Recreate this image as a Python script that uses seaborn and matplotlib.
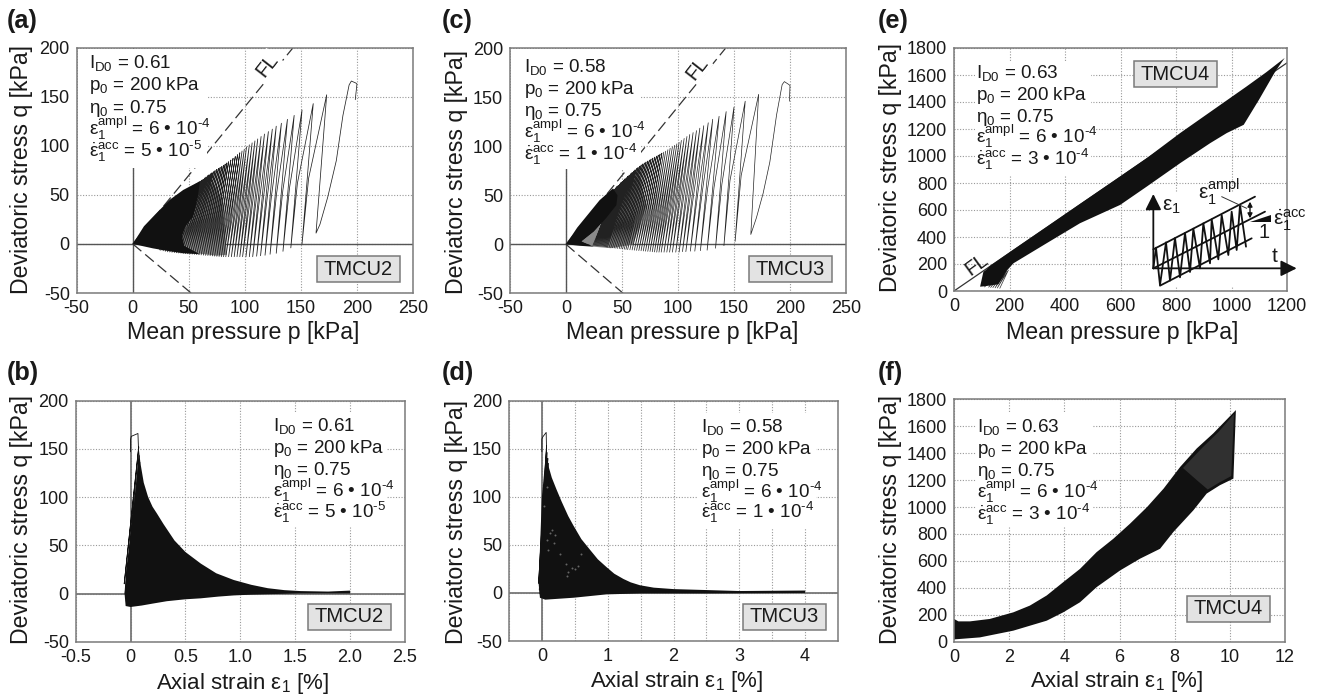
import matplotlib
matplotlib.use("Agg")
import matplotlib.pyplot as plt
from matplotlib.patches import Rectangle
import seaborn as sns

W, H = 1319, 697
INK = "#1a1a1a"
BLACK = "#111111"

# Panel a: loops
a_start_p = [198.5, 200, 199, 195, 193, 187.5, 181.6, 174, 167, 163.5]
a_start_q = [147, 163, 164, 166, 162, 131, 85, 48, 20, 11]
a_peak_p = [173, 161, 151, 144, 138, 132.6, 128, 124.5, 121, 117.5, 114.5, 111.5, 109, 106.5, 104, 101.5, 99.5, 97.5, 95.5, 93.5, 91.5, 89.5, 87.5, 85.5, 84, 82.5, 81, 79.5, 78, 76.5, 75, 73.5, 72, 70.7, 69.4, 68.1, 66.8, 65.5, 64.2, 62.9, 61.6, 60.3, 59, 57.7, 56.4, 55.1, 53.8, 52.5]
a_peak_q = [152, 143, 136.5, 131, 127, 123, 120, 117, 114.5, 112, 109.5, 107, 105, 103, 101, 99, 96.5, 94.7, 92.9, 91, 89.1, 87.3, 85.5, 83.8, 82.6, 81.4, 80.2, 79, 78, 77, 76, 74.8, 73.6, 72.5, 71.5, 70.5, 69.5, 68.3, 67.2, 66, 65, 64, 63, 62, 61, 60, 59.2, 58]
a_via_p = [156.9, 146.9, 139.9, 133.9, 128.4, 123.9, 120.1, 116.6, 113.1, 110.1, 107.1, 104.4, 101.9, 99.4, 96.9, 94.6, 92.3, 90.1, 88.1, 86.1, 84.1, 82.1, 80.1, 78.3, 76.5, 74.8, 73, 71.3, 69.5, 67.7, 66, 64.2, 62.5, 60.8, 59.2, 57.5, 55.8, 54.2, 52.5, 50.8, 49.1, 47.5, 45.8, 44.1, 42.5, 40.8, 39.1, 38]
a_via_q = [67, 62, 57.6, 54.7, 52.2, 50.3, 48.6, 47.2, 45.8, 44.6, 43.4, 42.5, 41.5, 40.6, 39.6, 38.5, 37.6, 36.8, 35.9, 35, 34.2, 33.5, 32.8, 32.4, 31.9, 31.4, 31, 30.6, 30.3, 29.9, 29.4, 29, 28.6, 28.2, 27.8, 27.5, 27, 26.6, 26.1, 25.8, 25.4, 25.1, 24.8, 24.4, 24.2, 24, 23.8, 23]
a_val_p = [151, 141, 134, 128, 122.5, 118, 114, 110.5, 107, 104, 101, 98, 95.5, 93, 90.5, 88, 85.5, 83, 81, 79, 77, 75, 73, 71, 69, 67, 65, 63, 61, 59, 57, 55, 53, 51, 49, 47, 45, 43, 41, 39, 37, 35, 33, 31, 29, 27, 25, 24]
a_val_q = [0, -4, -7.5, -9.5, -10.5, -11.5, -12, -12.5, -13, -13, -13, -13, -13, -13, -13, -13, -13, -13, -13, -13, -12.8, -12.6, -12.4, -12.2, -12, -11.8, -11.6, -11.4, -11.2, -11, -10.8, -10.6, -10.4, -10.2, -10, -9.8, -9.6, -9.4, -9.2, -9, -8.8, -8.5, -8.2, -8, -7.5, -7, -6.5, -6]
a_blob_p = [0, 10, 20, 33, 45, 55, 60, 58, 54, 47, 44, 46, 60, 45, 33, 18, 0]
a_blob_q = [0, 18, 30, 45, 55, 61, 64, 48, 28, 18, 8, -2, -10.5, -9.5, -7.5, -4.5, 0]
a_shade_p = [44, 54, 58, 64, 72, 80, 84, 75, 46]
a_shade_q = [8, 28, 48, 62, 62, 45, -11, -12, -8]

# Panel c
c_start_p = [199.5, 200, 199, 195, 193, 188, 182, 176, 170, 165]
c_start_q = [146, 162, 163, 166, 163, 132, 84, 52, 27, 10]
c_peak_p = [172, 160, 150, 143, 136.7, 131, 127, 123, 119.5, 116.5, 113.5, 110.5, 108, 105.5, 103, 101, 99, 97, 95, 93, 91, 89, 87.3, 85.6, 84, 82.4, 80.8, 79.2, 77.6, 76, 74.5, 73, 71.5, 70, 68.6, 67.2, 65.8, 64.4, 63, 61.7, 60.4, 59.1, 57.8, 56.5, 55.2, 53.9, 52.7, 51.5, 50.3, 49.1, 47.9, 46.7, 45.5, 44.3, 43.1, 42]
c_peak_q = [153, 146, 140, 135.4, 130.6, 127.6, 124, 121, 118.5, 116, 114, 112, 110, 108, 106, 104, 102.5, 101, 99.5, 98, 96.5, 95, 94, 93, 92, 91, 90, 89, 88, 87, 86, 85, 84, 83, 82, 81, 79.7, 78.5, 77.3, 76, 74.7, 73.4, 72, 70.7, 69.4, 68, 66.8, 65.5, 64.2, 63, 61.5, 60.2, 59, 57.6, 56.3, 55]
c_via_p = [156.4, 146.4, 139.2, 132.2, 126.4, 121.8, 117.8, 114.1, 111.1, 108.1, 105.1, 102.3, 99.8, 97.3, 95, 92.8, 90.8, 88.8, 86.8, 84.8, 82.8, 80.9, 79, 77.3, 75.4, 73.6, 71.8, 70, 68.2, 66.4, 64.7, 63.2, 61.7, 60.2, 58.8, 57.3, 55.8, 54.4, 53, 51.6, 50.2, 48.8, 47.4, 46.2, 45.1, 44, 42.9, 41.8, 40.7, 39.6, 38.5, 37.4, 36.3, 35.2, 34.2, 33]
c_via_q = [70.2, 65, 61.5, 58.2, 56.5, 54.6, 53.2, 51.7, 50.5, 49.3, 48.4, 47.5, 46.5, 45.6, 44.6, 44, 43.2, 42.5, 42, 41.3, 40.7, 40.4, 40, 39.6, 39.3, 38.9, 38.5, 38.2, 37.8, 37.5, 37.1, 36.8, 36.4, 36, 35.6, 35.1, 34.7, 34.2, 33.7, 33.2, 32.7, 32.1, 31.6, 31.1, 30.5, 29.9, 29.3, 28.8, 28.6, 27.9, 27.4, 26.9, 26.3, 25.7, 25.1, 24]
c_val_p = [151, 141, 133.5, 126, 120, 115, 111, 107, 104, 101, 98, 95, 92.5, 90, 87.5, 85, 83, 81, 79, 77, 75, 73, 71, 69, 67, 65, 63, 61, 59, 57, 55, 53.5, 52, 50.5, 49, 47.5, 46, 44.5, 43, 41.5, 40, 38.5, 37, 36, 35, 34, 33, 32, 31, 30, 29, 28, 27, 26, 25, 24]
c_val_q = [3, -1.4, -4, -6, -6.5, -7, -7, -7.5, -7.5, -8, -8, -8, -8, -8, -8, -8, -8, -8, -7.8, -7.6, -7.4, -7.2, -7, -6.8, -6.6, -6.4, -6.2, -6, -5.8, -5.6, -5.4, -5.2, -5, -4.8, -4.6, -4.4, -4.2, -4, -3.8, -3.6, -3.4, -3.2, -3, -2.8, -2.6, -2.4, -2.2, -2, -1.9, -1.8, -1.7, -1.6, -1.5, -1.4, -1.3, -1.2]
c_blob_p = [0, 10, 20, 30, 42, 46, 45, 36, 25, 14, 25, 12, 0]
c_blob_q = [0, 17, 31, 45, 57, 50, 40, 27, 13, 3, -2.5, -1.5, 0]
c_shade_p = [14, 25, 36, 45, 46, 56, 66, 72, 60, 40, 25]
c_shade_q = [3, 13, 27, 40, 52, 66, 68, 40, 0, -4, -2.5]

# Panel b: strain band
b_band_x = [-0.045, -0.055, -0.04, -0.01, 0.02, 0.05, 0.075, 0.09, 0.12, 0.16, 0.2, 0.24, 0.3, 0.4, 0.5, 0.64, 0.78, 0.94, 1.1, 1.25, 1.4, 1.55, 1.8, 2.0, 2.0, 1.55, 1.25, 1.1, 0.94, 0.8, 0.64, 0.5, 0.33, 0.2, 0.1, 0, -0.045]
b_band_q = [-13, 0, 25, 50, 80, 110, 150, 135, 115, 100, 90, 83, 72, 55, 43, 31, 21, 14, 9, 5.5, 3.5, 2.5, 2, 3, 0, 0, -0.7, -1.2, -2, -3.2, -5, -6, -8, -10.5, -12.5, -14, -13]
b_line_x = [0.0, 0.0, 0.006, 0.067, 0.072, -0.058, 0.075, -0.05, 0.08, -0.045, 0.085, -0.04, 0.09, -0.03, 0.095, -0.025, 0.1, -0.02, 0.105]
b_line_q = [147, 160, 163, 166, 150, 10, 152, 0, 143, -4, 136, -8, 130, -10, 125, -11, 120, -12, 115]

# Panel d
d_band_x = [-0.03, -0.05, -0.03, 0, 0.07, 0.08, 0.1, 0.15, 0.22, 0.3, 0.4, 0.48, 0.6, 0.73, 0.85, 0.98, 1.1, 1.24, 1.35, 1.49, 1.7, 2, 2.5, 3, 4, 4, 2.5, 1.5, 0.98, 0.48, 0.05, -0.03]
d_band_q = [-5, 10, 45, 100, 152, 140, 132, 120, 108, 95, 80, 70, 56, 45, 35, 27, 20, 14.5, 11, 8, 5.5, 4, 3, 2, 2.5, 0, -0.5, -0.5, -1.5, -5, -7, -5]
d_line_x = [0.0, 0.0, 0.01, 0.065, 0.07, -0.05, 0.07, -0.04, 0.08, -0.03, 0.09, -0.02, 0.1]
d_line_q = [147, 160, 162, 167, 150, 10, 153, 3, 146, -1, 140, -4, 135]
d_dot_x = [0.08, 0.12, 0.16, 0.2, 0.1, 0.18, 0.36, 0.4, 0.45, 0.5, 0.38, 0.55, 0.03, 0.08, 0.27, 0.6]
d_dot_q = [55, 62, 66, 60, 45, 52, 30, 22, 26, 25, 18, 28, 90, 110, 40, 40]

# Panel e: band and first loops
e_up_p = [94, 106, 115, 130, 214, 334, 454, 575, 695, 815, 935, 1055, 1125, 1191.6]
e_up_q = [32, 143, 156, 186, 306, 475, 645, 815, 985, 1170, 1343, 1516, 1620, 1726]
e_low_p = [1158, 1100, 1044, 983, 923, 815, 695, 599, 454, 334, 214, 190, 160, 110]
e_low_q = [1627, 1420, 1231, 1170, 1095, 947, 774, 638, 502, 354, 205, 150, 50, 35]
e_loop_p = [110, 150, 125, 162, 132, 172, 140, 180, 148, 190, 156, 196, 165]
e_loop_q = [30, 110, 28, 120, 26, 130, 25, 140, 23, 150, 22, 155, 20]
fl_p = [0, 1200]
fl_q = [0, 1690]

# Panel f
f_up_x = [0, 0.16, 0.58, 1.3, 2.15, 2.75, 3.36, 3.96, 4.57, 5.17, 5.78, 6.38, 7, 7.6, 8.2, 8.8, 9.4, 10.22]
f_up_q = [169, 151, 151, 169, 218, 268, 343, 442, 541, 665, 765, 876, 1000, 1137, 1298, 1435, 1547, 1720]
f_low_x = [10.13, 9.64, 9.16, 8.68, 7.95, 7.47, 6.74, 6.02, 5.17, 4.57, 3.96, 3.36, 2.15, 0.94, 0]
f_low_q = [1211, 1162, 1100, 976, 814, 690, 616, 529, 405, 293, 218, 156, 82, 32, 17]
f_light_x = [8.3, 9, 9.6, 10.15, 10.05, 9.6, 9.2, 8.8]
f_light_q = [1290, 1440, 1560, 1690, 1230, 1180, 1130, 1200]

# Sketch in panel e, in sketch units
sk_up_t = [40, 345]
sk_up_e = [238, 80]
sk_mid_t = [40, 375]
sk_mid_e = [295, 125]
sk_low_t = [60, 335]
sk_low_e = [347, 205]
sk_zig_t = [40, 48, 60, 78, 90, 105, 120, 135, 150, 160, 180, 190, 210, 215, 235, 245, 265, 275, 290, 300, 318]
sk_zig_e = [295, 233, 345, 217, 332, 204, 322, 189, 306, 176, 295, 160, 280, 148, 268, 135, 255, 125, 240, 105, 230]
sk_tri_t = [330, 392, 392]
sk_tri_e = [155, 155, 135]

# Tick values
p_ticks = [-50, 0, 50, 100, 150, 200, 250]
q_ticks = [-50, 0, 50, 100, 150, 200]
e_p_ticks = [0, 200, 400, 600, 800, 1000, 1200]
e_q_ticks = [0, 200, 400, 600, 800, 1000, 1200, 1400, 1600, 1800]
b_ticks = [-0.5, 0, 0.5, 1.0, 1.5, 2.0, 2.5]
b_tick_labels = ["-0.5", "0", "0.5", "1.0", "1.5", "2.0", "2.5"]
d_ticks = [-0.5, 0, 0.5, 1, 1.5, 2, 2.5, 3, 3.5, 4, 4.5]
d_tick_labels = ["", "0", "", "1", "", "2", "", "3", "", "4", ""]
f_ticks = [0, 2, 4, 6, 8, 10, 12]

sns.set_style("white")
plt.rcParams["font.family"] = ["Liberation Sans", "DejaVu Sans"]
plt.rcParams["mathtext.fontset"] = "custom"
plt.rcParams["mathtext.rm"] = "Liberation Sans"
plt.rcParams["mathtext.it"] = "Liberation Sans"
plt.rcParams["mathtext.bf"] = "Liberation Sans:bold"
plt.rcParams["mathtext.default"] = "regular"
plt.rcParams["axes.unicode_minus"] = False

fig = plt.figure(figsize=(W / 100, H / 100), dpi=100)


def fx(x):
    return x / W


def fy(y):
    return 1 - y / H


def make_axes(left, right, top, bottom, xlim, ylim, xticks, yticks, xlabels=None):
    ax = fig.add_axes([fx(left), fy(bottom), (right - left) / W, (bottom - top) / H])
    ax.set_xlim(xlim)
    ax.set_ylim(ylim)
    ax.set_xticks(xticks)
    ax.set_yticks(yticks)
    if xlabels is not None:
        ax.set_xticklabels(xlabels)
    ax.tick_params(length=0, labelsize=13, pad=5, labelcolor=INK)
    ax.grid(True, ls=(0, (1, 1.5)), color="#999999", lw=0.8)
    ax.set_axisbelow(True)
    for s in ax.spines.values():
        s.set_color("#7a7a7a")
        s.set_linewidth(1.1)
    return ax


def labels(ax, xl, xpos, yl, ypos, size=16.7):
    ax.set_xlabel(xl, fontsize=size, color=INK, va="center", ha="center")
    ax.set_ylabel(yl, fontsize=16.7, color=INK, va="center", ha="center")
    ax.xaxis.set_label_coords(fx(xpos[0]), fy(xpos[1]), transform=fig.transFigure)
    ax.yaxis.set_label_coords(fx(ypos[0]), fy(ypos[1]), transform=fig.transFigure)


def params(x, y, idr, rate):
    rows = [r"$I_{D0}$ = " + idr, r"$p_0$ = 200 kPa", r"$\eta_0$ = 0.75",
            "$\\varepsilon_1^{ampl}$ = 6 • 10$^{\u20104}$", r"$\dot{\varepsilon}_1^{acc}$ = " + rate]
    for row, yy in zip(rows, y):
        fig.text(fx(x), fy(yy), row, fontsize=13.6, color=INK, va="baseline", ha="left", zorder=5)


def tag(x, y, name):
    fig.add_artist(Rectangle((fx(x - 41.5), fy(y + 12.8)), 83 / W, 25.6 / H, transform=fig.transFigure,
                             fc="#e3e3e3", ec="#7a7a7a", lw=1.1, zorder=4))
    fig.text(fx(x), fy(y), name, fontsize=14.5, color=INK, ha="center", va="center", zorder=5)


def panel(x, y, name):
    fig.text(fx(x), fy(y), name, fontsize=18.3, fontweight="bold", color=INK, ha="left", va="center")


def blank(ax, x0, x1, y0, y1):
    ax.add_patch(Rectangle((x0, y0), x1 - x0, y1 - y0, fc="white", ec="none", zorder=1.5))


def loops(start_p, start_q, peak_p, peak_q, via_p, via_q, val_p, val_q):
    xs, ys = list(start_p), list(start_q)
    for pp, pq, mp, mq, vp, vq in zip(peak_p, peak_q, via_p, via_q, val_p, val_q):
        xs += [pp, mp, vp]
        ys += [pq, mq, vq]
    return xs, ys


def line(ax, x, y, lw=0.6, color=BLACK, z=2):
    sns.lineplot(x=x, y=y, sort=False, estimator=None, color=color, lw=lw, ax=ax, zorder=z, legend=False)


def fl_lines(ax, up_p, up_q, dn_p, dn_q):
    line(ax, [0, up_p], [0, up_q], lw=0.9, color="#333333", z=1)
    line(ax, [0, dn_p], [0, dn_q], lw=0.9, color="#333333", z=1)
    for l in ax.get_lines()[-2:]:
        l.set_dashes((9, 4))


YLAB = "Deviatoric stress q [kPa]"
YLAB2 = "Deviatorc stress q [kPa]"
XLAB = "Mean pressure p [kPa]"
XLAB2 = r"Axial strain $\varepsilon_1$ [%]"
RATE_A = "5 • 10$^{\u20105}$"
RATE_C = "1 • 10$^{\u20104}$"
RATE_E = "3 • 10$^{\u20104}$"

# (a)
ax = make_axes(76.7, 413, 47.7, 293, (-50, 250), (-50, 200), p_ticks, q_ticks)
ax.axhline(0, color="#555555", lw=1, zorder=1)
ax.axvline(0, color="#555555", lw=1, zorder=1)
fl_lines(ax, 143, 200, 52, -50)
blank(ax, -49, 66, 77, 199)
ax.fill(a_shade_p, a_shade_q, color="#8a8a8a", lw=0, zorder=1.8)
x, y = loops(a_start_p, a_start_q, a_peak_p, a_peak_q, a_via_p, a_via_q, a_val_p, a_val_q)
line(ax, x, y, lw=0.55, color="#222222")
ax.fill(a_blob_p, a_blob_q, color=BLACK, lw=0, zorder=2.5)
labels(ax, XLAB, (243, 333), YLAB, (22, 170))
params(89, [68, 90, 113, 135, 157], "0.61", RATE_A)
tag(358, 269, "TMCU2")
panel(7, 21, "(a)")
fig.text(fx(267), fy(65), "FL", fontsize=14.6, rotation=52, color=INK, ha="center", va="center",
         zorder=4, bbox=dict(fc="white", ec="none", pad=1))

# (c)
ax = make_axes(510, 846, 48.3, 293.3, (-50, 250), (-50, 200), p_ticks, q_ticks)
ax.axhline(0, color="#555555", lw=1, zorder=1)
ax.axvline(0, color="#555555", lw=1, zorder=1)
fl_lines(ax, 142.4, 200, 51, -50)
blank(ax, -49, 67, 77, 199)
ax.fill(c_shade_p, c_shade_q, color="#8a8a8a", lw=0, zorder=1.8)
x, y = loops(c_start_p, c_start_q, c_peak_p, c_peak_q, c_via_p, c_via_q, c_val_p, c_val_q)
line(ax, x, y, lw=0.5, color="#222222")
ax.fill(c_blob_p, c_blob_q, color=BLACK, lw=0, zorder=2.5)
labels(ax, XLAB, (682, 333), YLAB2, (457, 172))
params(524, [72, 94, 116, 138, 160], "0.58", RATE_C)
tag(790, 269, "TMCU3")
panel(442, 21, "(c)")
fig.text(fx(697), fy(68), "FL", fontsize=14.6, rotation=52, color=INK, ha="center", va="center",
         zorder=4, bbox=dict(fc="white", ec="none", pad=1))

# (e)
ax = make_axes(954, 1287, 48, 291, (0, 1200), (0, 1800), e_p_ticks, e_q_ticks)
blank(ax, 75, 495, 850, 1700)
blank(ax, 706, 1199, 30, 726)
line(ax, fl_p, fl_q, lw=0.9, color="#333333", z=1)
ax.fill(e_up_p + e_low_p, e_up_q + e_low_q, color=BLACK, lw=0, zorder=2.5)
line(ax, e_loop_p, e_loop_q, lw=0.5, color="#333333")
labels(ax, XLAB, (1122, 333), YLAB, (891, 168))
params(976, [78, 100, 122, 143, 165], "0.63", RATE_E)
tag(1175, 74, "TMCU4")
panel(878, 21, "(e)")
fig.text(fx(977), fy(265), "FL", fontsize=14.6, rotation=36, color=INK, ha="center", va="center", zorder=4)

# sketch inside (e)
sk = fig.add_axes([fx(1140), fy(295), 179 / W, 125 / H], zorder=6)
sk.set_xlim(0, 537)
sk.set_ylim(375, 0)
sk.axis("off")
sk.patch.set_alpha(0)
for tt, ee in [(sk_up_t, sk_up_e), (sk_mid_t, sk_mid_e), (sk_low_t, sk_low_e), (sk_zig_t, sk_zig_e)]:
    line(sk, tt, ee, lw=1.3, color=BLACK)
sk.fill(sk_tri_t, sk_tri_e, color=BLACK, lw=0)
arrow = dict(arrowstyle="-|>", color=BLACK, lw=1.3, mutation_scale=24, shrinkA=0, shrinkB=0)
sk.annotate("", xy=(40, 72), xytext=(40, 295), arrowprops=arrow, annotation_clip=False)
sk.annotate("", xy=(470, 295), xytext=(40, 295), arrowprops=arrow, annotation_clip=False)
sk.annotate("", xy=(330, 145), xytext=(330, 95),
            arrowprops=dict(arrowstyle="<|-|>", color=BLACK, lw=1, mutation_scale=7, shrinkA=0, shrinkB=0))
line(sk, [245, 320], [80, 115], lw=0.7, color="#333333")
sk.text(66, 122, r"$\varepsilon_1$", fontsize=15, color=INK, va="baseline")
sk.text(175, 88, r"$\varepsilon_1^{ampl}$", fontsize=15, color=INK, va="baseline")
sk.text(398, 165, r"$\dot{\varepsilon}_1^{acc}$", fontsize=15, color=INK, va="baseline")
sk.text(357, 203, "1", fontsize=14.5, color=INK, va="baseline")
sk.text(396, 275, "t", fontsize=15, color=INK, va="baseline")

# (b)
ax = make_axes(75.7, 405, 400.7, 641.7, (-0.5, 2.5), (-50, 200), b_ticks, q_ticks, b_tick_labels)
ax.axhline(0, color="#777777", lw=1.3, zorder=1)
ax.axvline(0, color="#777777", lw=1.3, zorder=1)
blank(ax, 1.27, 2.33, 70, 187)
line(ax, b_line_x, b_line_q, lw=0.6)
ax.fill(b_band_x, b_band_q, color=BLACK, lw=0, zorder=2.5)
labels(ax, XLAB2, (243, 683), YLAB, (22, 520), size=16)
params(273, [431, 453, 475, 497, 518], "0.61", RATE_A)
tag(349, 617, "TMCU2")
panel(7, 373, "(b)")

# (d)
ax = make_axes(509, 838, 400.7, 641, (-0.5, 4.5), (-50, 200), d_ticks, q_ticks, d_tick_labels)
ax.axhline(0, color="#777777", lw=1.3, zorder=1)
ax.axvline(0, color="#777777", lw=1.3, zorder=1)
blank(ax, 2.35, 4.17, 67, 187)
line(ax, d_line_x, d_line_q, lw=0.6)
ax.fill(d_band_x, d_band_q, color=BLACK, lw=0, zorder=2.5)
sns.scatterplot(x=d_dot_x, y=d_dot_q, s=2, color="#666666", linewidth=0, ax=ax, zorder=3, legend=False)
labels(ax, XLAB2, (677, 682), YLAB2, (456, 522), size=16)
params(701, [432, 454, 476, 498, 518], "0.58", RATE_C)
tag(784, 617, "TMCU3")
panel(442, 373, "(d)")

# (f)
ax = make_axes(954, 1285, 399.3, 641.7, (0, 12), (0, 1800), f_ticks, e_q_ticks)
blank(ax, 0.8, 5.0, 850, 1700)
ax.fill(f_up_x + f_low_x, f_up_q + f_low_q, color=BLACK, lw=0, zorder=2.5)
ax.fill(f_light_x, f_light_q, color="#303030", lw=0, zorder=2.6)
labels(ax, XLAB2, (1117, 682), YLAB, (891, 520), size=16)
params(977, [432, 454, 476, 498, 520], "0.63", RATE_E)
tag(1228, 609, "TMCU4")
panel(878, 373, "(f)")

fig.savefig("out.png", dpi=100)
